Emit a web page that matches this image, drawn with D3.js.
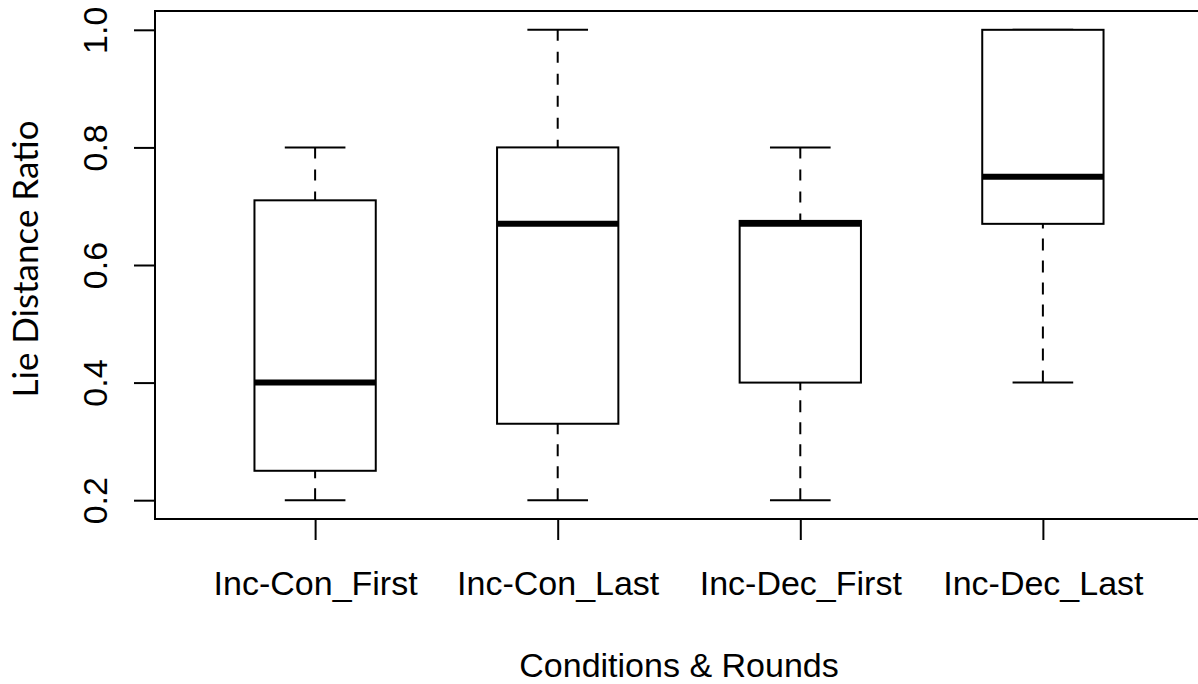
<!DOCTYPE html>
<html>
<head>
<meta charset="utf-8">
<script src="https://cdn.jsdelivr.net/npm/d3@7"></script>
<style>
  html, body { margin: 0; padding: 0; background: #fff; }
  svg { display: block; }
</style>
</head>
<body>
<svg id="chart" width="1198" height="684"></svg>
<script>
// ---- data ----
const categories = ["Inc-Con_First", "Inc-Con_Last", "Inc-Dec_First", "Inc-Dec_Last"];
const whiskerLow  = [0.20, 0.20, 0.20, 0.40];
const q1          = [0.25, 0.33, 0.40, 0.67];
const medians     = [0.40, 0.67, 0.67, 0.75];
const q3          = [0.71, 0.80, 0.675, 1.00];
const whiskerHigh = [0.80, 1.00, 0.80, 1.00];
const yTicks = [0.2, 0.4, 0.6, 0.8, 1.0];
const yLabel = "Lie Distance Ratio";
const xLabel = "Conditions & Rounds";

(function () {
// ---- layout ----
const svg = d3.select("#chart");
const pLeft = 155, pRight = 1203, pTop = 11, pBottom = 519;

const x = d3.scaleLinear().domain([0.34, 4.66]).range([pLeft, pRight]);
const y = d3.scaleLinear().domain([0.168, 1.032]).range([pBottom, pTop]);

const boxHalf = 0.25;   // in category units
const capHalf = 0.125;

const data = categories.map((c, i) => ({
  name: c, pos: i + 1,
  lo: whiskerLow[i], q1: q1[i], med: medians[i], q3: q3[i], hi: whiskerHigh[i]
}));

const font = "'Liberation Sans', Arial, Helvetica, sans-serif";

// ---- boxes ----
const g = svg.append("g");
data.forEach(d => {
  const cx = x(d.pos);
  if (d.hi > d.q3) {
    g.append("line").attr("x1", cx).attr("x2", cx)
      .attr("y1", y(d.hi)).attr("y2", y(d.q3))
      .attr("stroke", "#000").attr("stroke-width", 2).attr("stroke-dasharray", "11,11");
  }
  if (d.lo < d.q1) {
    g.append("line").attr("x1", cx).attr("x2", cx)
      .attr("y1", y(d.lo)).attr("y2", y(d.q1))
      .attr("stroke", "#000").attr("stroke-width", 2).attr("stroke-dasharray", "12,10");
  }
  [d.lo, d.hi].forEach(v => {
    g.append("line")
      .attr("x1", x(d.pos - capHalf)).attr("x2", x(d.pos + capHalf))
      .attr("y1", y(v)).attr("y2", y(v))
      .attr("stroke", "#000").attr("stroke-width", 2);
  });
  g.append("rect")
    .attr("x", x(d.pos - boxHalf)).attr("width", x(d.pos + boxHalf) - x(d.pos - boxHalf))
    .attr("y", y(d.q3)).attr("height", y(d.q1) - y(d.q3))
    .attr("fill", "#fff").attr("stroke", "#000").attr("stroke-width", 2);
  g.append("line")
    .attr("x1", x(d.pos - boxHalf)).attr("x2", x(d.pos + boxHalf))
    .attr("y1", y(d.med)).attr("y2", y(d.med))
    .attr("stroke", "#000").attr("stroke-width", 6);
});

// ---- frame ----
svg.append("rect")
  .attr("x", pLeft).attr("y", pTop)
  .attr("width", pRight - pLeft).attr("height", pBottom - pTop)
  .attr("fill", "none").attr("stroke", "#000").attr("stroke-width", 2);

// ---- y axis ----
const yAxis = d3.axisLeft(y).tickValues(yTicks).tickFormat(d3.format(".1f")).tickSize(21).tickSizeOuter(0);
const yg = svg.append("g").attr("transform", `translate(${pLeft},0)`).call(yAxis);
yg.select(".domain").remove();
yg.selectAll(".tick line").attr("stroke", "#000").attr("stroke-width", 2);
yg.selectAll(".tick text")
  .attr("x", null).attr("dy", null)
  .attr("transform", "translate(-48,0) rotate(-90)")
  .attr("text-anchor", "middle")
  .attr("font-family", font).attr("font-size", 34).attr("fill", "#000");

// ---- x axis ----
const xAxis = d3.axisBottom(x).tickValues(data.map(d => d.pos))
  .tickFormat((v, i) => categories[i]).tickSize(21).tickSizeOuter(0);
const xg = svg.append("g").attr("transform", `translate(0,${pBottom})`).call(xAxis);
xg.select(".domain").remove();
xg.selectAll(".tick line").attr("stroke", "#000").attr("stroke-width", 2);
xg.selectAll(".tick text")
  .attr("y", 76).attr("dy", null)
  .attr("font-family", font).attr("font-size", 34).attr("fill", "#000");

// ---- axis titles ----
svg.append("text")
  .attr("x", (pLeft + pRight) / 2).attr("y", 677)
  .attr("text-anchor", "middle")
  .attr("font-family", font).attr("font-size", 34).attr("fill", "#000")
  .text(xLabel);

const yt = svg.append("text")
  .attr("transform", "translate(38,259) rotate(-90)")
  .attr("text-anchor", "middle")
  .attr("font-family", "Lato, 'Open Sans', sans-serif").attr("font-size", 34).attr("fill", "#000")
  .text(yLabel);
const len = yt.node().getComputedTextLength();
yt.attr("font-size", 34 * 277 / len);
})();
</script>
</body>
</html>
